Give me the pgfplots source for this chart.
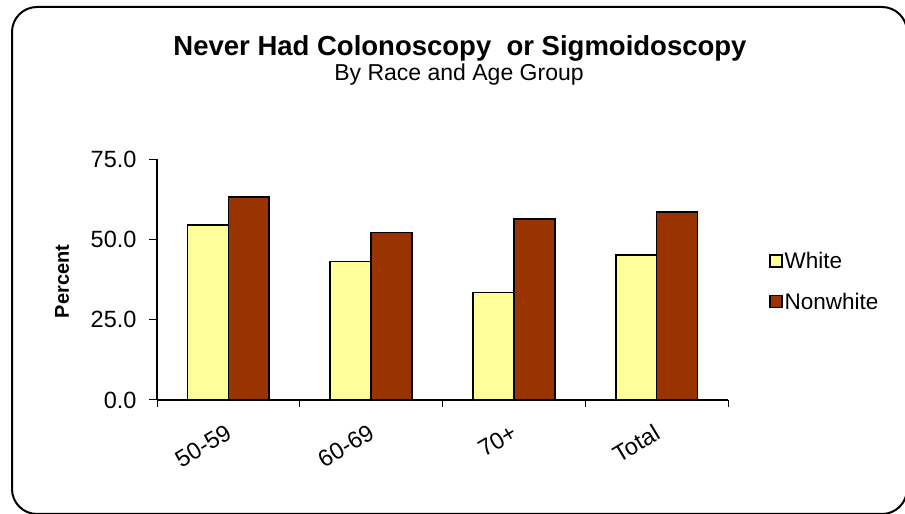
\documentclass[border=0pt]{standalone}
\usepackage{pgfplots}
\pgfplotsset{compat=1.18}
\usepackage{fontspec}
\setmainfont{Liberation Sans}

\definecolor{whitebar}{HTML}{FFFF99}
\definecolor{nonwhitebar}{HTML}{993300}

\begin{document}
\begin{tikzpicture}
\path[use as bounding box] (0pt,0pt) rectangle (905pt,514pt);
\clip (0pt,0pt) rectangle (905pt,514pt);
\draw[line width=2pt,rounded corners=25pt] (12pt,0pt) rectangle (907pt,507pt);

\node[anchor=base,font=\bfseries\fontsize{27.5}{32}\selectfont] at (460pt,458pt) {Never Had Colonoscopy\ \ or Sigmoidoscopy};
\node[anchor=base,font=\fontsize{23}{28}\selectfont] at (459pt,433pt) {By Race and Age Group};
\node[rotate=90,font=\bfseries\fontsize{20}{24}\selectfont] at (62pt,232.5pt) {Percent};

\begin{axis}[
    at={(157pt,114pt)}, anchor=south west,
    scale only axis,
    width=571pt, height=241pt,
    axis lines*=left,
    axis line style={line width=1.1pt},
    xmin=0, xmax=4,
    ymin=0, ymax=75,
    ytick={0,25,50,75},
    xtick={0.5,1.5,2.5,3.5},
    xticklabels={50-59,60-69,70+,Total},
    minor xtick={0,1,2,3,4},
    tick align=outside,
    major tick length=8pt,
    minor tick length=7pt,
    major x tick style={draw=none},
    tick style={line width=1pt,black},
    tick label style={font=\fontsize{23.5}{28}\selectfont},
    yticklabel style={xshift=-9pt,/pgf/number format/.cd,fixed,fixed zerofill,precision=1,assume math mode=true},
    xticklabel style={rotate=31,anchor=north east,inner sep=0pt,xshift=-11pt,yshift=-11pt},
    ybar=0pt,
    bar width=0.287,
    legend style={at={(axis description cs:1.072,0.492)},anchor=west,draw=none,fill=none,
        inner sep=0pt,row sep=19pt,font=\fontsize{22.5}{27}\selectfont},
    legend cell align=left,
    legend image code/.code={\draw[#1,/tikz/.cd,line width=1.3pt] (0pt,-6pt) rectangle (12pt,6pt);},
]
\addplot[fill=whitebar,draw=black,line width=1.7pt] coordinates {(0.5,54.4) (1.5,43.1) (2.5,33.5) (3.5,45.1)};
\addplot[fill=nonwhitebar,draw=black,line width=1.7pt] coordinates {(0.5,63.1) (1.5,52.1) (2.5,56.4) (3.5,58.4)};
\legend{White,Nonwhite}
\end{axis}
\end{tikzpicture}
\end{document}
